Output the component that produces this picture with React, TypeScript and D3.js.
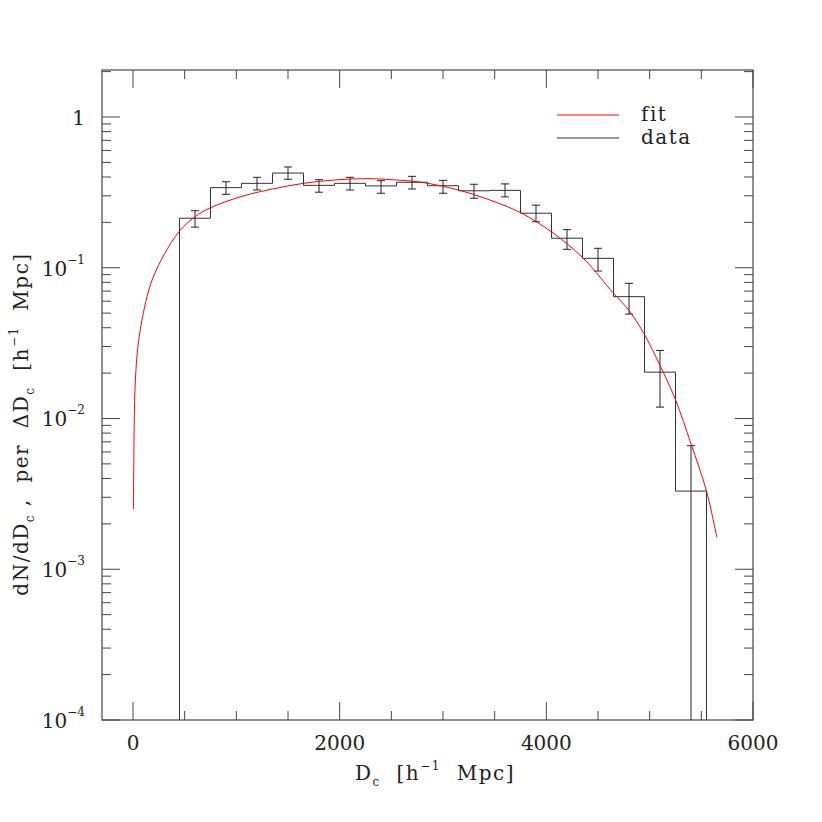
import React from "react";
import * as d3 from "d3";

// histogram bins (h^-1 Mpc), width 300
const binCenters = [600, 900, 1200, 1500, 1800, 2100, 2400, 2700, 3000, 3300, 3600, 3900, 4200, 4500, 4800, 5100, 5400];
const binValues = [0.213, 0.34, 0.363, 0.425, 0.352, 0.363, 0.349, 0.369, 0.35, 0.324, 0.326, 0.23, 0.157, 0.1155, 0.0643, 0.0203, 0.0033];
const errLow = [0.186, 0.307, 0.328, 0.386, 0.317, 0.328, 0.312, 0.333, 0.312, 0.289, 0.295, 0.202, 0.1325, 0.0951, 0.0493, 0.0119, 0];
const errHigh = [0.239, 0.372, 0.398, 0.466, 0.384, 0.398, 0.378, 0.404, 0.38, 0.358, 0.36, 0.26, 0.179, 0.1346, 0.0788, 0.0283, 0.0066];
const binWidth = 300;

// fitted curve
const fitD = [5, 20, 50, 100, 150, 200, 300, 450, 600, 750, 1050, 1350, 1650, 1950, 2250, 2600, 2800, 3150, 3450, 3750, 4050, 4350, 4650, 4800, 4950, 5100, 5250, 5400, 5550, 5650];
const fitV = [0.0025, 0.016, 0.031, 0.05, 0.07, 0.088, 0.122, 0.175, 0.218, 0.25, 0.297, 0.333, 0.363, 0.382, 0.39, 0.38, 0.368, 0.328, 0.282, 0.232, 0.173, 0.117, 0.0677, 0.052, 0.036, 0.0225, 0.0133, 0.0068, 0.0033, 0.00163];

const xMajor = [0, 2000, 4000, 6000];
const xMinor = d3.range(0, 6001, 500);
const yDecades = [-4, -3, -2, -1, 0];

const FONT = "'DejaVu Serif', serif";
const INK = "#333";

const App = () => {
  const L = 102, R = 753, T = 70, B = 720;
  const x = d3.scaleLinear().domain([-300, 6000]).range([L, R]);
  const y = d3.scaleLog().domain([1e-4, 2.05]).range([B, T]);
  const yc = (v: number) => (v <= 0 ? B : y(v));

  // step outline of histogram
  const pts: [number, number][] = [];
  binCenters.forEach((c, i) => {
    const x0 = x(c - binWidth / 2), x1 = x(c + binWidth / 2);
    if (i === 0) pts.push([x0, B]);
    pts.push([x0, yc(binValues[i])], [x1, yc(binValues[i])]);
    if (i === binCenters.length - 1) pts.push([x1, B]);
  });
  const histPath = d3.line()(pts) ?? "";

  const fitPath = d3
    .line<number>()
    .x((d) => x(d))
    .y((_, i) => y(fitV[i]))
    .curve(d3.curveCatmullRom.alpha(0.5))(fitD) ?? "";

  const yMinor: number[] = [];
  yDecades.forEach((e) => {
    for (let k = 2; k <= 9; k++) {
      const v = k * Math.pow(10, e);
      if (v <= 2.05) yMinor.push(v);
    }
  });

  const majLen = 18, minLen = 9;
  const titleStyle = { whiteSpace: "pre" as const, letterSpacing: "1.5px" };

  return (
    <svg width={822} height={822} style={{ position: "absolute", left: 0, top: 0, background: "#fff" }}>
      <defs>
        <clipPath id="plotArea">
          <rect x={L} y={T} width={R - L} height={B - T} />
        </clipPath>
      </defs>

      {/* frame */}
      <rect x={L} y={T} width={R - L} height={B - T} fill="none" stroke="#444" strokeWidth={1.2} />

      {/* ticks, mirrored on all four sides */}
      <g stroke="#444" strokeWidth={1}>
        {xMinor.map((v) => {
          const len = xMajor.includes(v) ? majLen : minLen;
          return (
            <g key={"xt" + v}>
              <line x1={x(v)} x2={x(v)} y1={B} y2={B - len} />
              <line x1={x(v)} x2={x(v)} y1={T} y2={T + len} />
            </g>
          );
        })}
        {yDecades.map((e) => {
          const v = Math.pow(10, e);
          return (
            <g key={"ym" + e}>
              <line x1={L} x2={L + majLen} y1={y(v)} y2={y(v)} />
              <line x1={R} x2={R - majLen} y1={y(v)} y2={y(v)} />
            </g>
          );
        })}
        {yMinor.map((v) => (
          <g key={"yn" + v}>
            <line x1={L} x2={L + minLen} y1={y(v)} y2={y(v)} />
            <line x1={R} x2={R - minLen} y1={y(v)} y2={y(v)} />
          </g>
        ))}
      </g>

      {/* tick labels */}
      <g fontFamily={FONT} fontSize={20} fill="#222">
        {xMajor.map((v) => (
          <text key={"xl" + v} x={x(v)} y={750} textAnchor="middle">
            {v}
          </text>
        ))}
        {yDecades.map((e) => (
          <text key={"yl" + e} x={85} y={y(Math.pow(10, e)) + 8} textAnchor="end">
            {e === 0 ? (
              "1"
            ) : (
              <>
                <tspan>10</tspan>
                <tspan fontSize={12} dy={-12}>{"\u2212" + -e}</tspan>
              </>
            )}
          </text>
        ))}
      </g>

      {/* axis titles */}
      <text x={435} y={780} textAnchor="middle" fontFamily={FONT} fontSize={20} fill="#222" style={titleStyle}>
        <tspan>D</tspan>
        <tspan fontSize={12} dy={6}>c</tspan>
        <tspan dy={-6}>{"  [h"}</tspan>
        <tspan fontSize={12} dy={-10}>{"\u22121"}</tspan>
        <tspan dy={10}>{"  Mpc]"}</tspan>
      </text>
      <text
        transform="translate(28,424) rotate(-90)"
        textAnchor="middle"
        fontFamily={FONT}
        fontSize={20}
        fill="#222"
        style={titleStyle}
      >
        <tspan>dN/dD</tspan>
        <tspan fontSize={12} dy={6}>c</tspan>
        <tspan dy={-6}>{" ,  per  \u0394D"}</tspan>
        <tspan fontSize={12} dy={6}>c</tspan>
        <tspan dy={-6}>{"  [h"}</tspan>
        <tspan fontSize={12} dy={-10}>{"\u22121"}</tspan>
        <tspan dy={10}>{"  Mpc]"}</tspan>
      </text>

      {/* data */}
      <g clipPath="url(#plotArea)">
        <path d={histPath} fill="none" stroke={INK} strokeWidth={1} />
        <g stroke="#222" strokeWidth={1}>
          {binCenters.map((c, i) => {
            const cx = x(c);
            return (
              <g key={"eb" + c}>
                <line x1={cx} x2={cx} y1={yc(errLow[i])} y2={yc(errHigh[i])} />
                <line x1={cx - 4} x2={cx + 4} y1={yc(errHigh[i])} y2={yc(errHigh[i])} />
                {errLow[i] > 0 && <line x1={cx - 4} x2={cx + 4} y1={yc(errLow[i])} y2={yc(errLow[i])} />}
              </g>
            );
          })}
        </g>
        <path d={fitPath} fill="none" stroke="#ff0000" strokeWidth={1} />
      </g>

      {/* legend */}
      <line x1={557} x2={619} y1={115} y2={115} stroke="#ff0000" strokeWidth={1} />
      <line x1={557} x2={619} y1={138} y2={138} stroke={INK} strokeWidth={1} />
      <g fontFamily={FONT} fontSize={20} fill="#222" style={{ letterSpacing: "1.5px" }}>
        <text x={641} y={121}>fit</text>
        <text x={641} y={144}>data</text>
      </g>
    </svg>
  );
};

export default App;
